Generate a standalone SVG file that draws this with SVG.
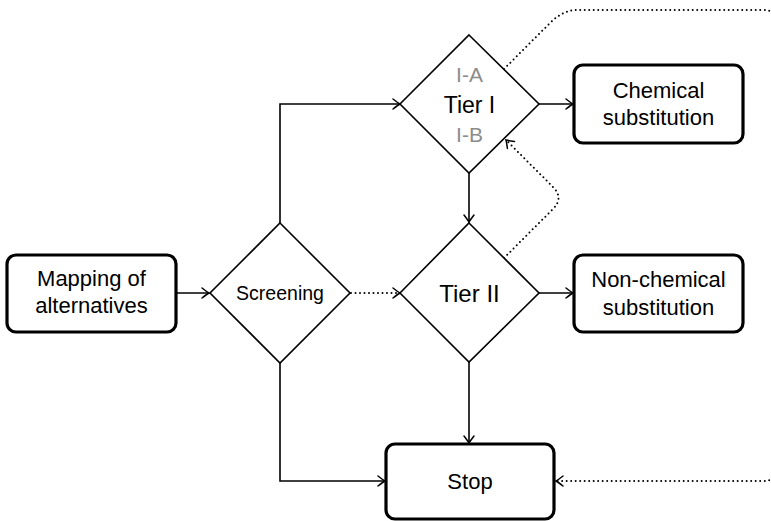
<svg xmlns="http://www.w3.org/2000/svg" width="771" height="521" viewBox="0 0 771 521">
<defs>
<marker id="arr" markerUnits="userSpaceOnUse" markerWidth="14" markerHeight="14" viewBox="-8 -7 10 14" refX="0" refY="0" orient="auto">
<path d="M-7,-5 Q-2,-1.2 0,0 Q-2,1.2 -7,5" fill="none" stroke="#000" stroke-width="1.5" stroke-linecap="round"/>
</marker>
<style>
.box{fill:#fff;stroke:#000;stroke-width:3.2}
.dia{fill:#fff;stroke:#000;stroke-width:1.6}
.t{font-family:"Liberation Sans",Arial,sans-serif;font-size:22px;fill:#000;text-anchor:middle}
.g{fill:#8c8c8c}
.e{fill:none;stroke:#000;stroke-width:1.6;marker-end:url(#arr)}
.d{fill:none;stroke:#000;stroke-width:2;stroke-linecap:round;stroke-dasharray:0 4.5;marker-end:url(#arr)}
</style>
</defs>
<g id="connectors">
<path class="e" d="M176,293 L209,293"/>
<path class="e" d="M280,223 L280,104 L400,104"/>
<path class="e" d="M280,362 L280,481 L385,481"/>
<path class="d" d="M351,293 L400,293"/>
<path class="e" d="M469,173 L469,222"/>
<path class="e" d="M469,362 L469,443"/>
<path class="e" d="M539,104 L573,104"/>
<path class="e" d="M539,293 L573,293"/>
<path class="d" d="M504,69 L550,23 Q563,10 577,10 L763,10 Q778,10 778,25 L778,466 Q778,481 763,481 L556,481"/>
<path class="d" d="M504,258 L553,209 Q564,198 553,187 L506,140"/>
</g>
<g id="mapping">
<rect class="box" x="7" y="255" width="169" height="77" rx="9"/>
<text class="t" x="91.5" y="286">Mapping of</text>
<text class="t" x="91.5" y="313">alternatives</text>
</g>
<g id="screening">
<path class="dia" d="M280,223 L350,293 L280,363 L210,293 Z"/>
<text class="t" x="280" y="300" style="font-size:19.5px">Screening</text>
</g>
<g id="tier1">
<path class="dia" d="M469,35 L539,104 L469,173 L400,104 Z"/>
<text class="t g" x="469.5" y="82" style="font-size:21px">I-A</text>
<text class="t" x="469.5" y="113" style="font-size:23px">Tier I</text>
<text class="t g" x="469.5" y="142" style="font-size:21px">I-B</text>
</g>
<g id="tier2">
<path class="dia" d="M469,223 L539,293 L469,362 L400,293 Z"/>
<text class="t" x="469.5" y="302" style="font-size:24px">Tier II</text>
</g>
<g id="chemical">
<rect class="box" x="574" y="65" width="169" height="78" rx="9"/>
<text class="t" x="658.5" y="98">Chemical</text>
<text class="t" x="658.5" y="125">substitution</text>
</g>
<g id="nonchemical">
<rect class="box" x="574" y="255" width="169" height="77" rx="9"/>
<text class="t" x="658.5" y="287">Non-chemical</text>
<text class="t" x="658.5" y="315">substitution</text>
</g>
<g id="stop">
<rect class="box" x="386" y="444" width="168" height="75" rx="9"/>
<text class="t" x="470" y="489">Stop</text>
</g>
</svg>
